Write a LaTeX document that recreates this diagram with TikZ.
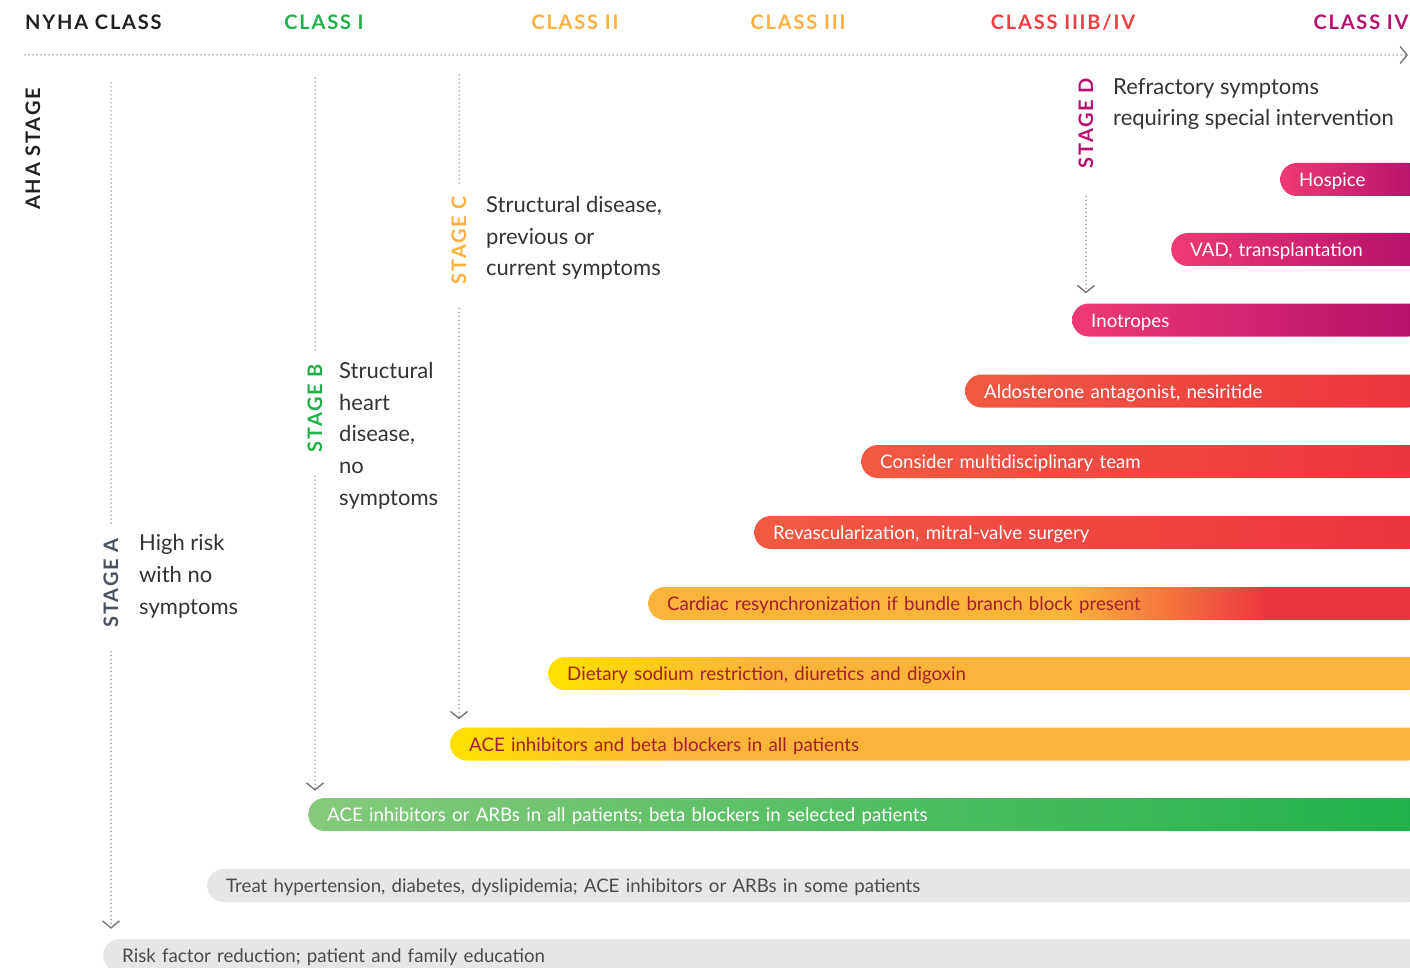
\documentclass[tikz,border=0pt]{standalone}
\usepackage{fontspec}
\setmainfont{Lato}
\newfontfamily\capsfont[LetterSpace=9]{Lato}
\usepackage{xcolor}
\definecolor{inkDark}{HTML}{231F20}
\definecolor{txtGray}{HTML}{333333}
\definecolor{slate}{HTML}{4A5260}
\definecolor{lineGray}{HTML}{74777B}
\definecolor{clsGreen}{HTML}{22B04B}
\definecolor{clsOrange}{HTML}{FBB040}
\definecolor{clsRed}{HTML}{EF3E42}
\definecolor{clsMagenta}{HTML}{B5126D}
\definecolor{pinkL}{HTML}{EE3A74}
\definecolor{pinkR}{HTML}{B50E6B}
\definecolor{redL}{HTML}{F15A41}
\definecolor{redR}{HTML}{ED3340}
\definecolor{barYel}{HTML}{FFE100}
\definecolor{barOrg}{HTML}{FBB43B}
\definecolor{grnL}{HTML}{86C97C}
\definecolor{grnR}{HTML}{1FB24C}
\definecolor{barGray}{HTML}{E5E6E5}
\definecolor{barGrayTxt}{HTML}{4A4B4D}
\definecolor{darkRed}{HTML}{A3202A}
\usepackage{tikz}
\usetikzlibrary{positioning,arrows.meta}
\pgfdeclarehorizontalshading{yelorange}{100bp}{color(0bp)=(barYel); color(25bp)=(barYel); color(37bp)=(barOrg); color(100bp)=(barOrg)}
\pgfdeclarehorizontalshading{orangered}{100bp}{color(0bp)=(barOrg); color(52bp)=(barOrg); color(65bp)=(redR); color(100bp)=(redR)}

\begin{document}
\begin{tikzpicture}[x=1pt, y=-1pt,
  cls/.style={font=\capsfont\bfseries\fontsize{20}{20}\selectfont, inner sep=0pt, anchor=base},
  stg/.style={font=\capsfont\bfseries\fontsize{20}{20}\selectfont, rotate=90, inner xsep=12pt, inner ysep=0pt},
  desc/.style={font=\fontsize{22}{31.6}\selectfont, align=left, anchor=base west, inner sep=0pt, text=txtGray},
  bar/.style={rectangle, rounded corners=16.5pt, minimum height=33pt, inner xsep=19pt, inner ysep=0pt,
              text height=17pt, text depth=2.4pt, anchor=west, align=left, font=\fontsize{18.7}{20}\selectfont},
  pinkbar/.style={bar, left color=pinkL, right color=pinkR, text=white},
  redbar/.style={bar, left color=redL, right color=redR, text=white},
  yelbar/.style={bar, shading=yelorange, text=darkRed},
  graybar/.style={bar, fill=barGray, text=barGrayTxt},
  vline/.style={draw=lineGray, line width=1.5pt, dash pattern=on 0pt off 4pt, line cap=round},
  >={Straight Barb[length=7pt, width=17pt, line width=1.4pt]}
]
\useasboundingbox (0,0) rectangle (1410,968);
\clip (0,0) rectangle (1410,968);

%% ── NYHA classes ──────────────────────────────────────────────
\node[cls, anchor=base west, text=inkDark] (nyha) at (25,30) {NYHA CLASS};
\node[cls, text=clsGreen]   (c1)  at (324,30)  {CLASS I};
\node[cls, text=clsOrange]  (c2)  at (575,30)  {CLASS II};
\node[cls, text=clsOrange]  (c3)  at (798,30)  {CLASS III};
\node[cls, text=clsRed]     (c3b) at (1063,30) {CLASS IIIB/IV};
\node[cls, text=clsMagenta] (c4)  at (1361,30) {CLASS IV};
\coordinate (axl) at (25,55);
\coordinate (axr) at (1408,55);
\draw[vline, ->] (axl) -- (axr);

%% ── therapy bars ──────────────────────────────────────────────
\node[pinkbar, text width=107pt]  (hosp) at (1280,179.5) {Hospice};
\node[pinkbar, text width=216pt]  (vad)  at (1171,249.5) {VAD, transplantation};
\node[pinkbar, text width=315pt]  (ino)  at (1072,320)   {Inotropes};
\node[redbar, text width=422pt]   (ald)  at (965,391)    {Aldosterone antagonist, nesiritide};
\node[redbar, text width=526pt]   (mdt)  at (861,461.5)  {Consider multidisciplinary team};
\node[redbar, text width=633pt]   (rev)  at (754,532.5)  {Revascularization, mitral-valve surgery};
\node[bar, shading=orangered, text=darkRed, text width=739pt] (crt) at (648,603.5)
  {Cardiac resynchronization if bundle branch block present};
\node[yelbar, text width=839pt]   (diet) at (548,673.5)  {Dietary sodium restriction, diuretics and digoxin};
\node[yelbar, text width=937pt]   (aceb) at (450,744)    {ACE inhibitors and beta blockers in all patients};
\node[bar, left color=grnL, right color=grnR, text=white, text width=1079pt] (acb) at (308,814.5)
  {ACE inhibitors or ARBs in all patients; beta blockers in selected patients};
\node[graybar, text width=1180pt] (htn)  at (207,885.5)
  {Treat hypertension, diabetes, dyslipidemia; ACE inhibitors or ARBs in some patients};
\node[graybar, text width=1284pt] (rf)   at (103,955.5)  {Risk factor reduction; patient and family education};

%% ── AHA stages ────────────────────────────────────────────────
\node[stg, text=inkDark] (aha) at (33,149) {AHA STAGE};

% stage A
\node[stg, text=slate] (stA) at (111,583) {STAGE A};
\coordinate (atop) at (111,83);
\draw[vline] (atop) -- (stA);
\draw[vline, ->, shorten <=12pt, shorten >=10pt] (stA) -- (stA |- rf.north);
\node[desc] (dA) at (139,614) {High risk\\with no\\symptoms};

% stage B
\node[stg, text=clsGreen] (stB) at (315,408) {STAGE B};
\coordinate (btop) at (315,78);
\draw[vline] (btop) -- (stB);
\draw[vline, ->, shorten <=12pt, shorten >=7pt] (stB) -- (stB |- acb.north);
\node[desc] (dB) at (339,505) {Structural\\heart\\disease,\\no\\symptoms};

% stage C
\node[stg, text=clsOrange] (stC) at (459,240) {STAGE C};
\coordinate (ctop) at (459,75);
\draw[vline] (ctop) -- (stC);
\draw[vline, ->, shorten <=12pt, shorten >=8pt] (stC) -- (stC |- aceb.north);
\node[desc] (dC) at (486,276) {Structural disease,\\previous or\\current symptoms};

% stage D
\node[stg, text=clsMagenta] (stD) at (1086,123) {STAGE D};
\draw[vline, ->, shorten <=16pt, shorten >=10pt] (stD) -- (stD |- ino.north);
\node[desc] (dD) at (1113,126) {Refractory symptoms\\requiring special intervention};
\end{tikzpicture}
\end{document}
